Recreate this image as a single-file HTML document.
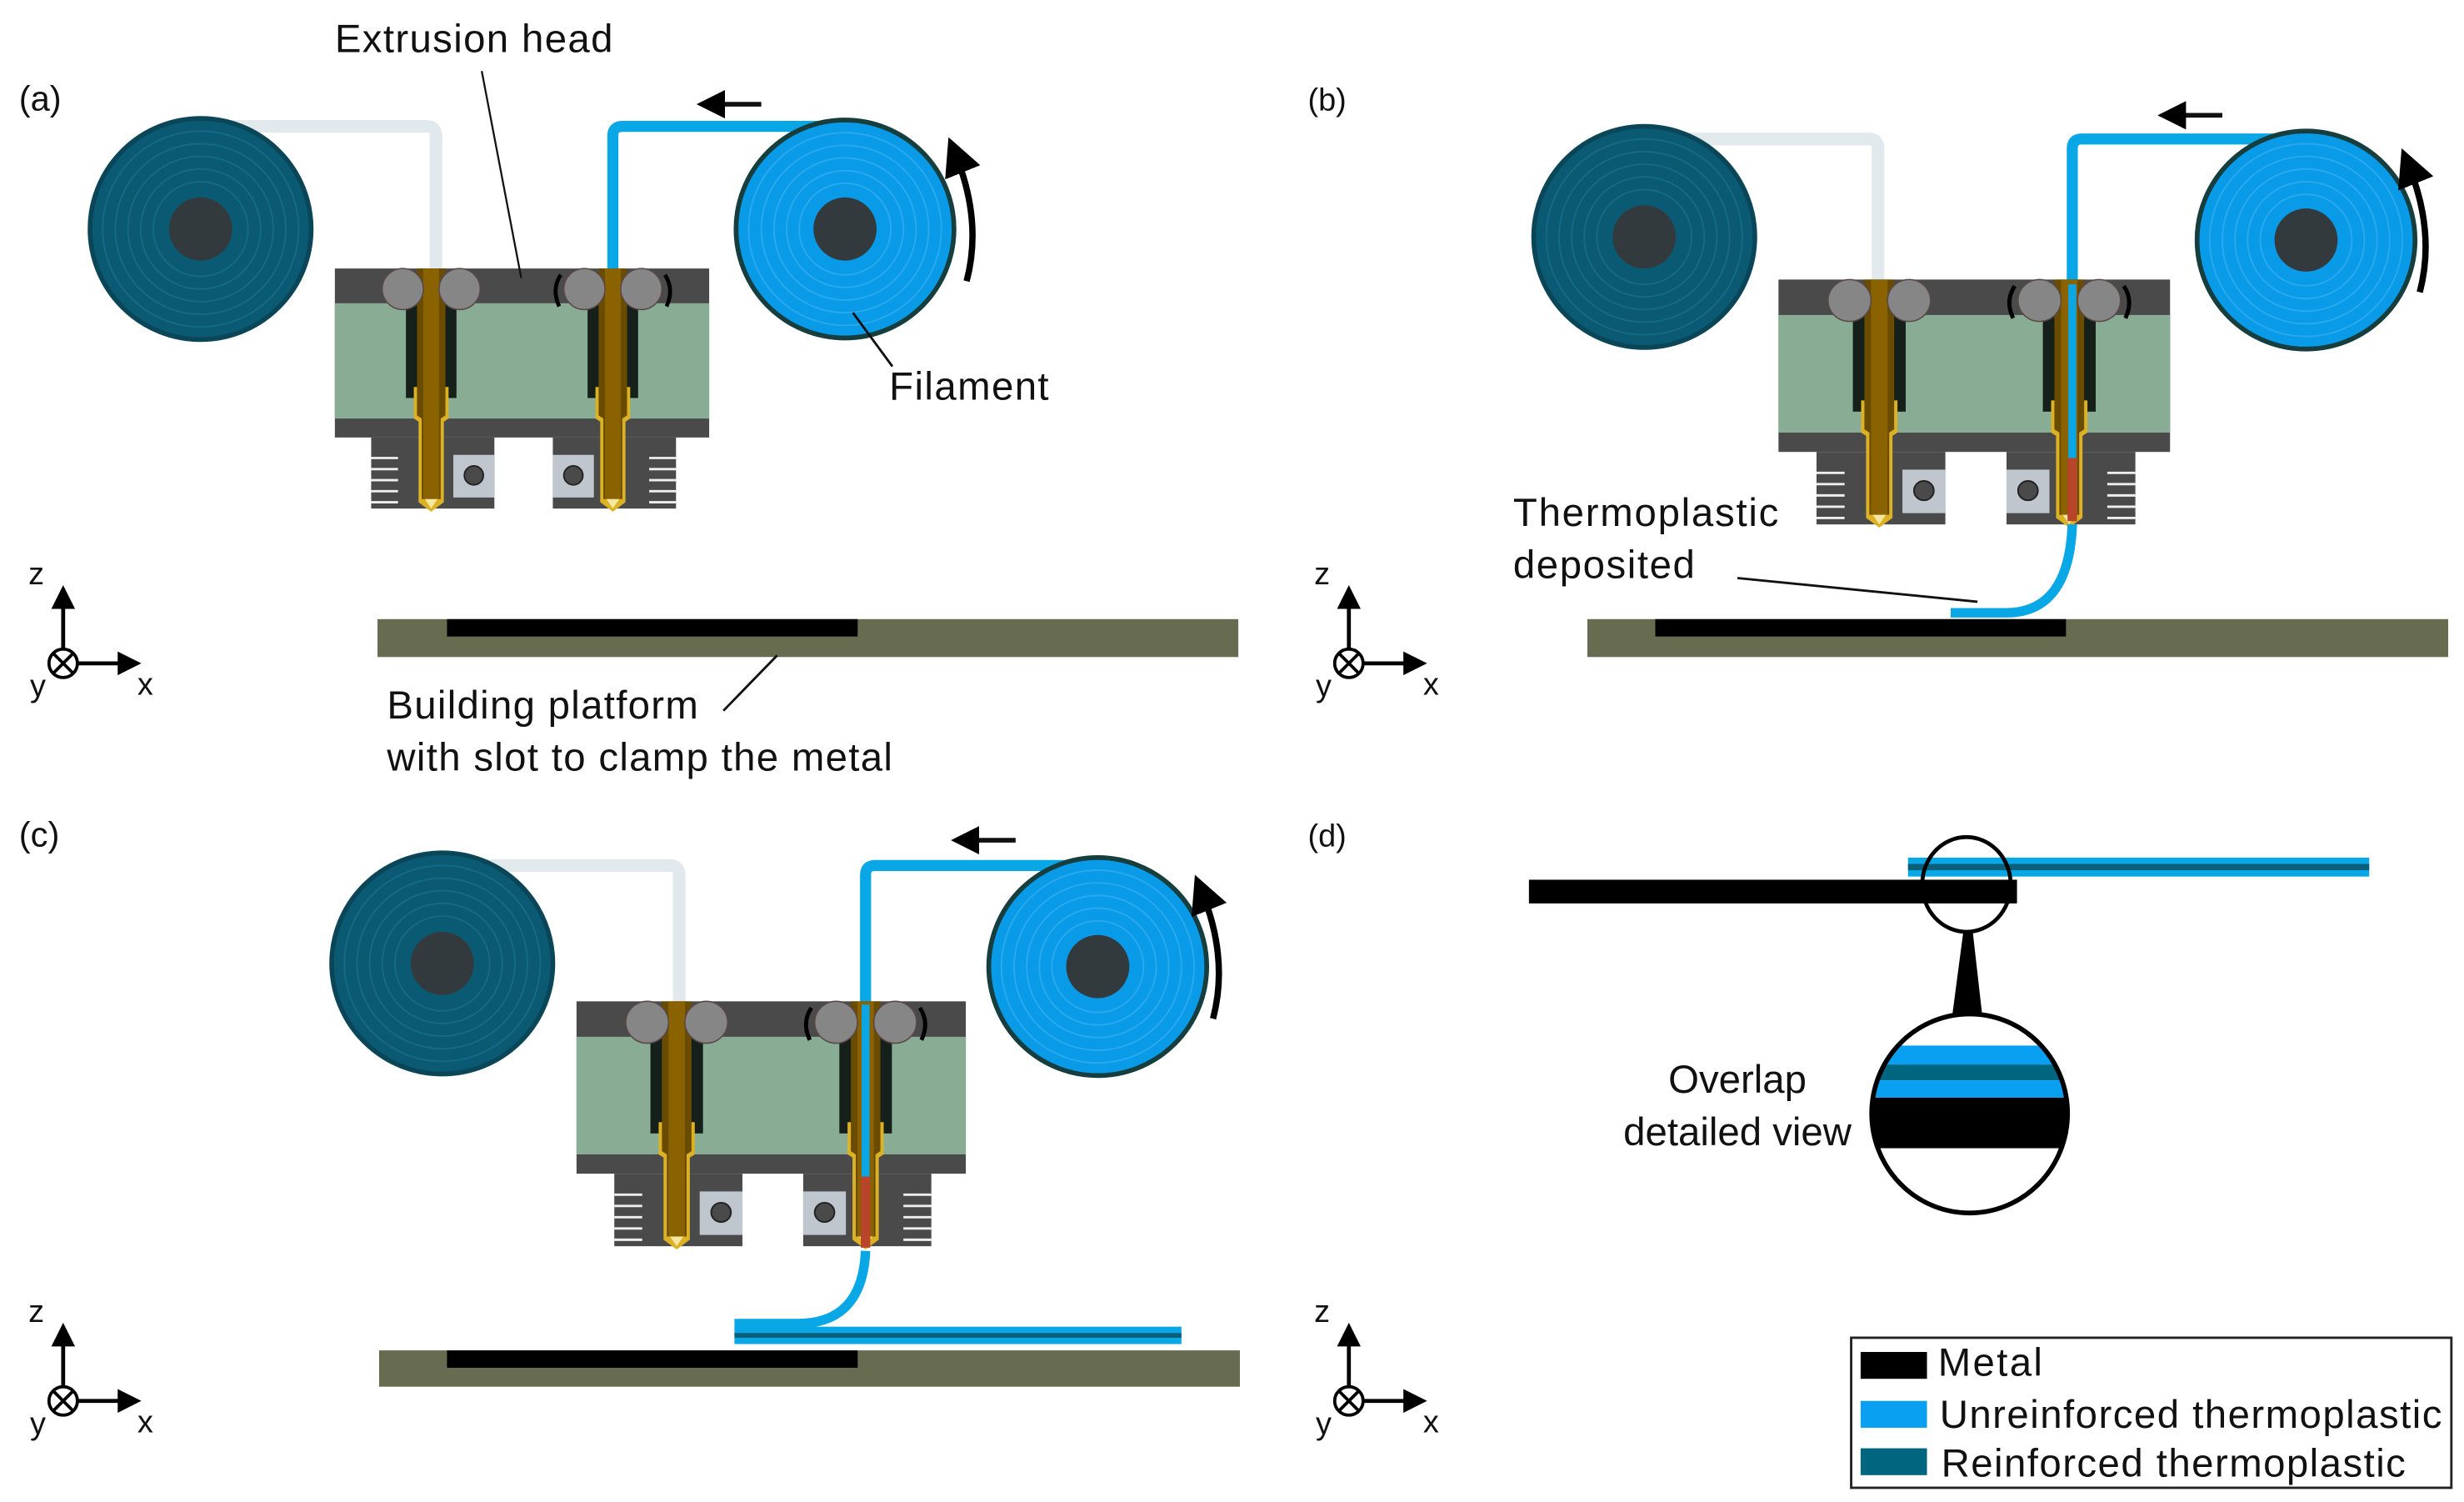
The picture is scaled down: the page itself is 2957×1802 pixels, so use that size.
<!DOCTYPE html>
<html><head><meta charset="utf-8"><style>
html,body{margin:0;padding:0;background:#fff}
svg{display:block}
text{font-family:"Liberation Sans",Arial,sans-serif;fill:#111}
</style></head><body>
<svg width="2957" height="1802" viewBox="0 0 1560 951" preserveAspectRatio="none" xmlns="http://www.w3.org/2000/svg">
<defs>
<marker id="ah" markerWidth="6" markerHeight="6" refX="3" refY="3" orient="auto" markerUnits="strokeWidth"><path d="M0,0 L6,3 L0,6 z" fill="#000"/></marker>
<g id="spoolT">
<circle r="70" fill="#0b5a74" stroke="#0a4658" stroke-width="3"/>
<circle r="62" fill="none" stroke="#156a85" stroke-width="1"/>
<circle r="54" fill="none" stroke="#156a85" stroke-width="1"/>
<circle r="46" fill="none" stroke="#156a85" stroke-width="1"/>
<circle r="38" fill="none" stroke="#156a85" stroke-width="1"/>
<circle r="30" fill="none" stroke="#156a85" stroke-width="1"/>
<circle r="20" fill="#333a3d"/>
</g>
<g id="spoolB">
<circle r="69" fill="#0a9be8" stroke="#163e3e" stroke-width="3"/>
<circle r="61" fill="none" stroke="#2aa9ee" stroke-width="1"/>
<circle r="53" fill="none" stroke="#2aa9ee" stroke-width="1"/>
<circle r="45" fill="none" stroke="#2aa9ee" stroke-width="1"/>
<circle r="37" fill="none" stroke="#2aa9ee" stroke-width="1"/>
<circle r="29" fill="none" stroke="#2aa9ee" stroke-width="1"/>
<circle r="20" fill="#333a3d"/>
</g>
<g id="nozzle">
<rect x="-16" y="22" width="32" height="60" fill="#16201a"/>
<path d="M-11,75 L-11,95 L-8,97 L-8,148 L0,154 L8,148 L8,97 L11,95 L11,75 z" fill="#dcb224"/>
<path d="M-9,0 L9,0 L9,93 L6,95 L6,146 L-6,146 L-6,95 L-9,93 z" fill="#6a4c00"/>
<rect x="-5" y="0" width="10" height="146" fill="#8a6300"/>
<path d="M-4,146 L0,152 L4,146 z" fill="#f5e6a0"/>
</g>
<g id="head">
<rect x="0" y="0" width="237" height="107" fill="#4a4a4a"/>
<rect x="0" y="22" width="237" height="73" fill="#89ad94"/>
<rect x="23" y="107" width="78" height="45" fill="#4a4a4a"/>
<rect x="138" y="107" width="78" height="45" fill="#4a4a4a"/>
<rect x="75" y="118" width="26" height="27" fill="#c0c6ce"/>
<circle cx="88" cy="131" r="6" fill="#4a4a4a" stroke="#222"/>
<rect x="138" y="118" width="26" height="27" fill="#c0c6ce"/>
<circle cx="151" cy="131" r="6" fill="#4a4a4a" stroke="#222"/>
<g stroke="#eee" stroke-width="1.5">
<line x1="23" y1="120" x2="40" y2="120"/><line x1="23" y1="127" x2="40" y2="127"/><line x1="23" y1="134" x2="40" y2="134"/><line x1="23" y1="141" x2="40" y2="141"/><line x1="23" y1="148" x2="40" y2="148"/>
<line x1="199" y1="120" x2="216" y2="120"/><line x1="199" y1="127" x2="216" y2="127"/><line x1="199" y1="134" x2="216" y2="134"/><line x1="199" y1="141" x2="216" y2="141"/><line x1="199" y1="148" x2="216" y2="148"/>
</g>
<use href="#nozzle" x="61"/>
<use href="#nozzle" x="176"/>
<g fill="#868686" stroke="#5a4848" stroke-width="0.8">
<circle cx="43" cy="13" r="13"/><circle cx="79" cy="13" r="13"/>
<circle cx="158" cy="13" r="13"/><circle cx="194" cy="13" r="13"/>
</g>
<path d="M143,4 Q137,13 142,24" fill="none" stroke="#000" stroke-width="2.5"/>
<path d="M209,4 Q215,13 210,24" fill="none" stroke="#000" stroke-width="2.5"/>
</g>
<g id="axes">
<line x1="0" y1="0" x2="0" y2="-42" stroke="#000" stroke-width="2.5" marker-end="url(#ah)"/>
<line x1="9" y1="0" x2="42" y2="0" stroke="#000" stroke-width="2.5" marker-end="url(#ah)"/>
<circle r="9" fill="#fff" stroke="#000" stroke-width="2"/>
<path d="M-6,-6 L6,6 M6,-6 L-6,6" stroke="#000" stroke-width="2"/>
<text x="-22" y="-50" font-size="20">z</text>
<text x="-21" y="21" font-size="20">y</text>
<text x="47" y="20" font-size="20">x</text>
</g>
</defs>

<!-- Panel a -->
<text x="12" y="70" font-size="22">(a)</text>
<path d="M127,80 L270,80 Q276,80 276,86 L276,172" fill="none" stroke="#e2e9ec" stroke-width="8"/>
<path d="M535,80 L394,80 Q388,80 388,86 L388,172" fill="none" stroke="#0aa7e6" stroke-width="7"/>
<use href="#spoolT" x="127" y="145"/>
<use href="#spoolB" x="535" y="145"/>
<line x1="482" y1="66" x2="450" y2="66" stroke="#111" stroke-width="3" marker-end="url(#ah)"/>
<path d="M612,178 Q622,140 605,98" fill="none" stroke="#000" stroke-width="4" marker-end="url(#ah)"/>
<use href="#head" x="212" y="170"/>
<text x="212" y="33" font-size="25" textLength="176">Extrusion head</text>
<line x1="305" y1="45" x2="330" y2="176" stroke="#111" stroke-width="1.2"/>
<text x="563" y="253" font-size="25" textLength="101">Filament</text>
<line x1="565" y1="232" x2="540" y2="198" stroke="#111" stroke-width="1.5"/>
<rect x="239" y="392" width="545" height="24" fill="#676b50"/>
<rect x="283" y="392" width="260" height="11" fill="#000"/>
<line x1="458" y1="450" x2="492" y2="415" stroke="#111" stroke-width="1.5"/>
<text x="245" y="455" font-size="25" textLength="197">Building platform</text>
<text x="245" y="488" font-size="25" textLength="320">with slot to clamp the metal</text>
<use href="#axes" x="40" y="420"/>

<!-- Panel b -->
<text x="828" y="70" font-size="20">(b)</text>
<path d="M1041,88 L1183,88 Q1189,88 1189,94 L1189,180" fill="none" stroke="#e2e9ec" stroke-width="8"/>
<path d="M1460,88 L1318,88 Q1312,88 1312,94 L1312,180" fill="none" stroke="#0aa7e6" stroke-width="7"/>
<use href="#spoolT" x="1041" y="150"/>
<use href="#spoolB" x="1460" y="152"/>
<line x1="1407" y1="73" x2="1375" y2="73" stroke="#111" stroke-width="3" marker-end="url(#ah)"/>
<path d="M1532,185 Q1542,147 1525,105" fill="none" stroke="#000" stroke-width="4" marker-end="url(#ah)"/>
<g transform="translate(1126,177) scale(1.046,1.02)"><use href="#head"/></g>
<line x1="1312" y1="180" x2="1312" y2="290" stroke="#0aa7e6" stroke-width="5"/>
<line x1="1312" y1="290" x2="1312" y2="330" stroke="#b8442a" stroke-width="6"/>
<path d="M1312,332 Q1310,388 1270,388 L1235,388" fill="none" stroke="#0aa7e6" stroke-width="6"/>
<rect x="1005" y="392" width="545" height="24" fill="#676b50"/>
<rect x="1048" y="392" width="260" height="11" fill="#000"/>
<text x="958" y="333" font-size="25" textLength="168">Thermoplastic</text>
<text x="958" y="366" font-size="25" textLength="115">deposited</text>
<line x1="1100" y1="366" x2="1252" y2="381" stroke="#111" stroke-width="1.5"/>
<use href="#axes" x="854" y="420"/>

<!-- Panel c -->
<text x="12" y="536" font-size="22">(c)</text>
<path d="M280,548 L424,548 Q430,548 430,554 L430,636" fill="none" stroke="#e2e9ec" stroke-width="8"/>
<path d="M695,548 L554,548 Q548,548 548,554 L548,636" fill="none" stroke="#0aa7e6" stroke-width="7"/>
<use href="#spoolT" x="280" y="610"/>
<use href="#spoolB" x="695" y="612"/>
<line x1="643" y1="532" x2="611" y2="532" stroke="#111" stroke-width="3" marker-end="url(#ah)"/>
<path d="M768,645 Q778,607 761,565" fill="none" stroke="#000" stroke-width="4" marker-end="url(#ah)"/>
<g transform="translate(365,634) scale(1.04,1.02)"><use href="#head"/></g>
<line x1="548" y1="636" x2="548" y2="745" stroke="#0aa7e6" stroke-width="5"/>
<line x1="548" y1="745" x2="548" y2="790" stroke="#b8442a" stroke-width="6"/>
<path d="M548,792 Q546,838 505,838 L465,838" fill="none" stroke="#0aa7e6" stroke-width="6"/>
<rect x="465" y="840" width="283" height="11" fill="#0aa7e6"/>
<rect x="465" y="844" width="283" height="3" fill="#0a5f7a"/>
<rect x="240" y="855" width="545" height="23" fill="#676b50"/>
<rect x="283" y="855" width="260" height="11" fill="#000"/>
<use href="#axes" x="40" y="887"/>

<!-- Panel d -->
<text x="828" y="536" font-size="20">(d)</text>
<rect x="1208" y="543" width="292" height="12" fill="#0aa7e6"/>
<rect x="1208" y="547" width="292" height="4" fill="#0a5f7a"/>
<rect x="968" y="557" width="309" height="15" fill="#000"/>
<ellipse cx="1245" cy="560" rx="28" ry="30" fill="none" stroke="#000" stroke-width="2.5"/>
<path d="M1243,590 L1249,590 L1255,643 L1236,643 z" fill="#000"/>
<clipPath id="cc"><ellipse cx="1247" cy="705" rx="62" ry="63"/></clipPath>
<g clip-path="url(#cc)">
<rect x="1180" y="640" width="140" height="140" fill="#fff"/>
<rect x="1180" y="662" width="140" height="12" fill="#0aa0f2"/>
<rect x="1180" y="674" width="140" height="10" fill="#006680"/>
<rect x="1180" y="684" width="140" height="11" fill="#0aa0f2"/>
<rect x="1180" y="695" width="140" height="32" fill="#000"/>
</g>
<ellipse cx="1247" cy="705" rx="62" ry="63" fill="none" stroke="#000" stroke-width="3"/>
<text x="1100" y="692" font-size="25" text-anchor="middle">Overlap</text>
<text x="1100" y="725" font-size="25" text-anchor="middle">detailed view</text>
<use href="#axes" x="854" y="887"/>

<!-- Legend -->
<rect x="1172" y="847" width="380" height="95" fill="#fff" stroke="#222" stroke-width="1.5"/>
<rect x="1178" y="856" width="42" height="17" fill="#000"/>
<rect x="1178" y="887" width="42" height="17" fill="#0aa0f2"/>
<rect x="1178" y="917" width="42" height="17" fill="#006680"/>
<text x="1227" y="871" font-size="25" textLength="66">Metal</text>
<text x="1228" y="904" font-size="25" textLength="318">Unreinforced thermoplastic</text>
<text x="1229" y="935" font-size="25" textLength="294">Reinforced thermoplastic</text>
</svg>
</body></html>
